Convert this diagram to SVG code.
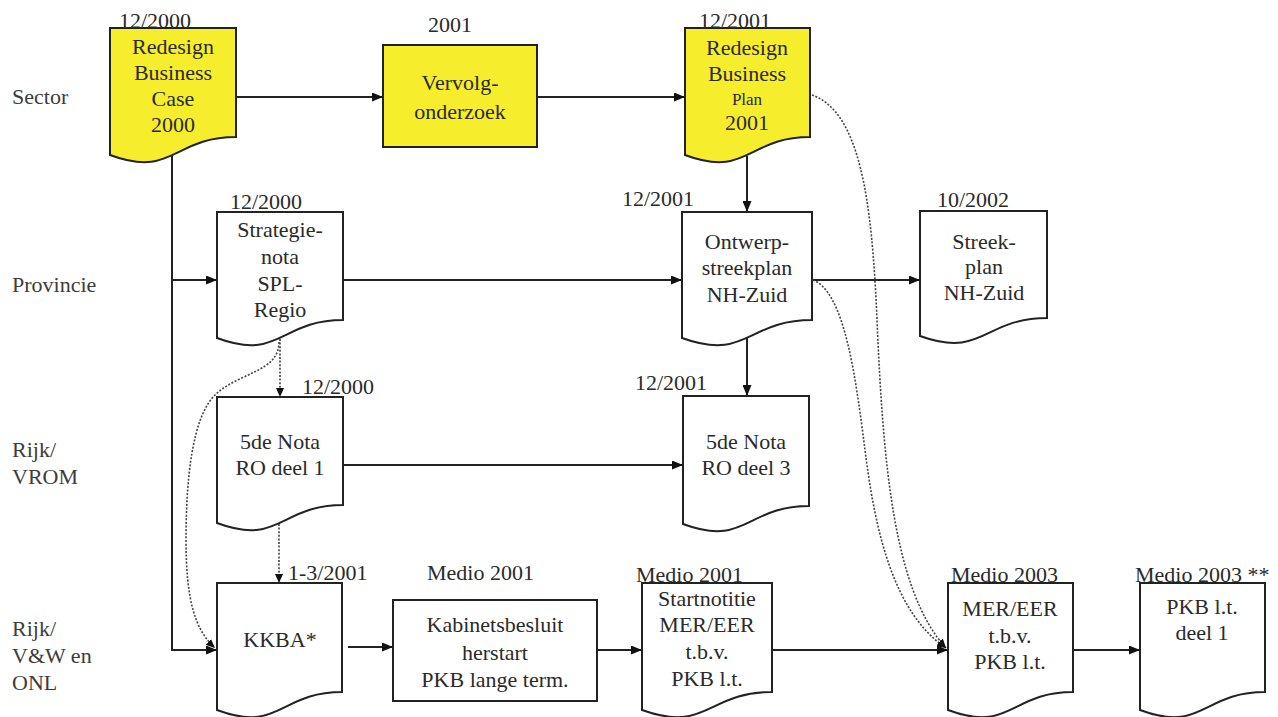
<svg xmlns="http://www.w3.org/2000/svg" width="1278" height="717" viewBox="0 0 1278 717">
  <style>
    text { font-family: "Liberation Serif", "Times New Roman", "DejaVu Serif", serif; font-size: 22px; fill: #2a2a2a; }
    .lane { fill: #3c3c3c; }
    .c { text-anchor: middle; }
    .small { font-size: 17px; }
    .doc, .box { stroke: #222; stroke-width: 2; fill: #fff; }
    .hl { fill: #f6ee2c; }
    .flow { fill: none; stroke: #222; stroke-width: 2; }
    .dot { fill: none; stroke: #444; stroke-width: 1.6; stroke-dasharray: 2 1.6; }
  </style>
  <defs>
    <marker id="arr" markerUnits="userSpaceOnUse" markerWidth="11" markerHeight="9" refX="11" refY="4.5" orient="auto">
      <path d="M0,0 L11,4.5 L0,9 Z" fill="#111"/>
    </marker>
    <marker id="arrS" markerUnits="userSpaceOnUse" markerWidth="9" markerHeight="8" refX="9" refY="4" orient="auto">
      <path d="M0,0 L9,4 L0,8 Z" fill="#111"/>
    </marker>
  </defs>

  <rect width="1278" height="717" fill="#fff"/>

  <!-- swimlane labels -->
  <g id="lanes">
    <text class="lane" x="12" y="104">Sector</text>
    <text class="lane" x="12" y="292">Provincie</text>
    <text class="lane" x="12" y="457">Rijk/</text>
    <text class="lane" x="12" y="484">VROM</text>
    <text class="lane" x="12" y="636">Rijk/</text>
    <text class="lane" x="12" y="663">V&amp;W en</text>
    <text class="lane" x="12" y="690">ONL</text>
  </g>

  <!-- connectors -->
  <g id="connectors">
    <path class="flow" d="M236,97 H383" marker-end="url(#arr)"/>
    <path class="flow" d="M537,97 H685" marker-end="url(#arr)"/>
    <path class="flow" d="M747,156 V212" marker-end="url(#arr)"/>
    <path class="flow" d="M172,156 V650 H217" marker-end="url(#arr)"/>
    <path class="flow" d="M172,280 H217" marker-end="url(#arr)"/>
    <path class="flow" d="M343,280 H682" marker-end="url(#arr)"/>
    <path class="flow" d="M812,280 H920" marker-end="url(#arr)"/>
    <path class="flow" d="M747,338 V396" marker-end="url(#arr)"/>
    <path class="flow" d="M343,465 H683" marker-end="url(#arr)"/>
    <path class="flow" d="M348,647 H393" marker-end="url(#arr)"/>
    <path class="flow" d="M597,650 H642" marker-end="url(#arr)"/>
    <path class="flow" d="M772,650 H948" marker-end="url(#arr)"/>
    <path class="flow" d="M1073,650 H1140" marker-end="url(#arr)"/>
    <path class="dot" d="M280,339 V397" marker-end="url(#arrS)"/>
    <path class="dot" d="M279,524 V583" marker-end="url(#arrS)"/>
    <path class="dot" d="M279,342 C279,372 240,372 216,394 C192,416 186,480 186,540 C186,600 195,630 215,648" marker-end="url(#arrS)"/>
    <path class="dot" d="M812,95 C860,112 872,200 877,320 C883,460 893,590 946,648" marker-end="url(#arrS)"/>
    <path class="dot" d="M813,280 C845,292 856,380 865,450 C875,530 893,612 946,648" marker-end="url(#arrS)"/>
  </g>

  <!-- Sector -->
  <g id="rbc2000">
    <path class="doc hl" d="M110,28 H236 V137 C173,137 173,178.5 110,155 Z"/>
    <text class="c" x="173" y="54">Redesign</text>
    <text class="c" x="173" y="80">Business</text>
    <text class="c" x="173" y="106">Case</text>
    <text class="c" x="173" y="132">2000</text>
    <text x="119" y="28">12/2000</text>
  </g>
  <g id="vervolgonderzoek">
    <rect class="box hl" x="383" y="45" width="154" height="102"/>
    <text class="c" x="460" y="90">Vervolg-</text>
    <text class="c" x="460" y="119">onderzoek</text>
    <text class="c" x="450" y="32">2001</text>
  </g>
  <g id="rbp2001">
    <path class="doc hl" d="M685,28 H810 V137 C747.5,137 747.5,178.5 685,155 Z"/>
    <text class="c" x="747" y="55">Redesign</text>
    <text class="c" x="747" y="81">Business</text>
    <text class="c small" x="747" y="105">Plan</text>
    <text class="c" x="747" y="130">2001</text>
    <text x="699" y="28">12/2001</text>
  </g>

  <!-- Provincie -->
  <g id="strategienota">
    <path class="doc" d="M217,212 H343 V320 C280,320 280,361.5 217,338 Z"/>
    <text class="c" x="280" y="237">Strategie-</text>
    <text class="c" x="280" y="264">nota</text>
    <text class="c" x="280" y="291">SPL-</text>
    <text class="c" x="280" y="317">Regio</text>
    <text x="230" y="209">12/2000</text>
  </g>
  <g id="ontwerpstreekplan">
    <path class="doc" d="M682,212 H812 V320 C747,320 747,361.5 682,338 Z"/>
    <text class="c" x="747" y="249">Ontwerp-</text>
    <text class="c" x="747" y="275">streekplan</text>
    <text class="c" x="747" y="302">NH-Zuid</text>
    <text x="622" y="206">12/2001</text>
  </g>
  <g id="streekplan">
    <path class="doc" d="M920,211 H1047 V318 C983.5,318 983.5,359 920,336 Z"/>
    <text class="c" x="984" y="249">Streek-</text>
    <text class="c" x="984" y="274">plan</text>
    <text class="c" x="984" y="300">NH-Zuid</text>
    <text x="937" y="207">10/2002</text>
  </g>

  <!-- Rijk/VROM -->
  <g id="nota5deel1">
    <path class="doc" d="M217,397 H343 V505 C280,505 280,546.5 217,523 Z"/>
    <text class="c" x="280" y="449">5de Nota</text>
    <text class="c" x="280" y="475">RO deel 1</text>
    <text x="302" y="394">12/2000</text>
  </g>
  <g id="nota5deel3">
    <path class="doc" d="M683,396 H809 V506 C746,506 746,547.5 683,524 Z"/>
    <text class="c" x="746" y="449">5de Nota</text>
    <text class="c" x="746" y="475">RO deel 3</text>
    <text x="635" y="390">12/2001</text>
  </g>

  <!-- Rijk/V&W en ONL -->
  <g id="kkba">
    <path class="doc" d="M217,583 H342 V692 C279.5,692 279.5,733.5 217,710 Z"/>
    <text class="c" x="280" y="647">KKBA*</text>
    <text x="288" y="580">1-3/2001</text>
  </g>
  <g id="kabinetsbesluit">
    <rect class="box" x="393" y="600" width="204" height="101"/>
    <text class="c" x="495" y="632">Kabinetsbesluit</text>
    <text class="c" x="495" y="660">herstart</text>
    <text class="c" x="495" y="687">PKB lange term.</text>
    <text x="427" y="580">Medio 2001</text>
  </g>
  <g id="startnotitie">
    <path class="doc" d="M642,583 H772 V692 C707,692 707,733.5 642,710 Z"/>
    <text class="c" x="707" y="606">Startnotitie</text>
    <text class="c" x="707" y="632">MER/EER</text>
    <text class="c" x="707" y="659">t.b.v.</text>
    <text class="c" x="707" y="686">PKB l.t.</text>
    <text x="636" y="582">Medio 2001</text>
  </g>
  <g id="mereer">
    <path class="doc" d="M948,583 H1073 V692 C1010.5,692 1010.5,733.5 948,710 Z"/>
    <text class="c" x="1010" y="616">MER/EER</text>
    <text class="c" x="1010" y="643">t.b.v.</text>
    <text class="c" x="1010" y="669">PKB l.t.</text>
    <text x="951" y="582">Medio 2003</text>
  </g>
  <g id="pkbdeel1">
    <path class="doc" d="M1140,583 H1265 V692 C1202.5,692 1202.5,733.5 1140,710 Z"/>
    <text class="c" x="1202" y="614">PKB l.t.</text>
    <text class="c" x="1202" y="640">deel 1</text>
    <text x="1135" y="582">Medio 2003 **</text>
  </g>
</svg>
